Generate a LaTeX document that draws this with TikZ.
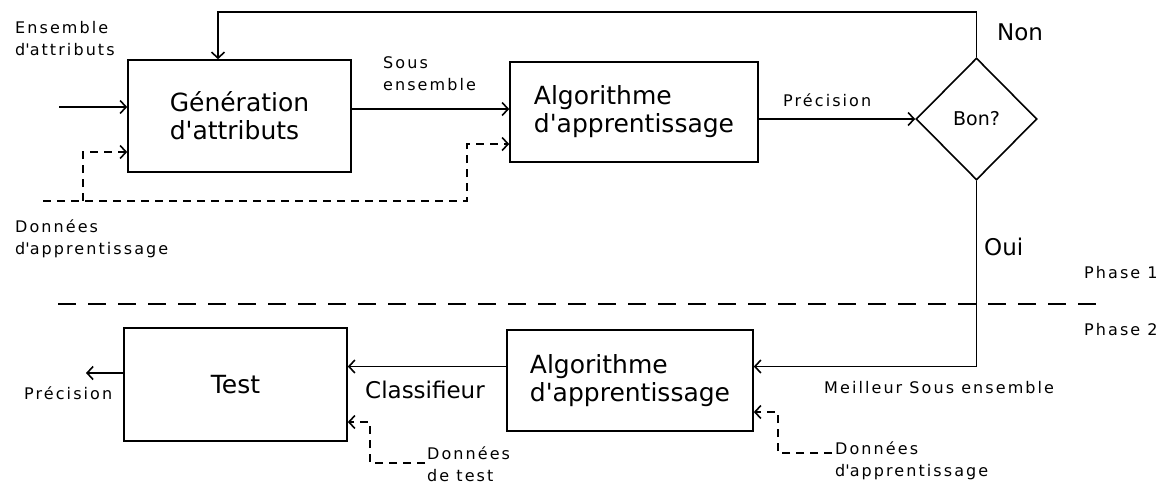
\documentclass[tikz,border=0pt]{standalone}
\usepackage{fontspec}
\setmainfont{DejaVu Sans}
\newfontfamily\smallfont{DejaVu Sans}[LetterSpace=13]
\usepackage{tikz}
\newcommand{\linew}{1.6pt}
\newcommand{\ap}{\textquotesingle}
\usetikzlibrary{arrows.meta,shapes.geometric,positioning}
\tikzset{
  >={Straight Barb[length=6pt,width=13pt]},
  box/.style={draw,shape=rectangle,line width=\linew,inner sep=0,align=left,font=\fontsize{25}{28}\selectfont},
  decision/.style={draw,shape=diamond,line width=\linew,inner sep=0,aspect=1,font=\fontsize{19}{22}\selectfont},
  lbl/.style={anchor=west,align=left,inner sep=0,font=\smallfont\fontsize{16}{22}\selectfont},
  big/.style={anchor=west,inner sep=0,font=\fontsize{23}{27}\selectfont},
  flow/.style={draw,->,line width=\linew},
  data/.style={draw,->,line width=\linew,dash pattern=on 8pt off 6pt},
  phase/.style={draw,line width=\linew,dash pattern=on 18pt off 12pt},
}

\begin{document}
\begin{tikzpicture}[x=1pt,y=-1pt]
  \useasboundingbox (0,0) rectangle (1172,483);
  % phase 1
  \node (gen) [box,minimum width=223pt,minimum height=112pt] at (239.5,116) {Génération\\d\ap attributs};
  \node (algo) [box,minimum width=248pt,minimum height=100pt] at (634,112) {Algorithme\\d\ap apprentissage};
  \node (bon) [decision,minimum width=121pt,minimum height=122pt] at (976.5,119) {Bon?};
  % phase 2
  \node (algob) [box,minimum width=246pt,minimum height=101pt] at (630,380.5) {Algorithme\\d\ap apprentissage};
  \node (test) [box,minimum width=223pt,minimum height=113pt] at (235.5,384.5) {Test};

  % labels
  \node (ens) [lbl] at (15,39) {Ensemble\\d\ap attributs};
  \node (sous) [lbl] at (383,74) {Sous\\ensemble};
  \node (donA) [lbl] at (15,239) {Données\\d\ap apprentissage};
  \node (precA) [lbl] at (783,100) {Précision};
  \node (non) [big] at (997,32) {Non};
  \node (oui) [big] at (984,247) {Oui};
  \node (ph1) [lbl] at (1084,273) {Phase 1};
  \node (ph2) [lbl] at (1084,330) {Phase 2};
  \node (best) [lbl] at (824,388) {Meilleur Sous ensemble};
  \node (donC) [lbl] at (835,461) {Données\\d\ap apprentissage};
  \node (donT) [lbl] at (427,464) {Données\\de test};
  \node (clf) [big] at (365,390) {Classifieur};
  \node (precB) [lbl] at (24,393) {Précision};

  % free ends
  \coordinate (in) at (59,107);
  \coordinate (top) at (218,12);
  \coordinate (out) at (86,373);
  \coordinate (dstart) at (43,201);
  \coordinate (dsplit) at (83,201);
  \coordinate (dturn) at (467,201);
  \coordinate (tdata) at (425,463);
  \coordinate (adata) at (832,453);
  \coordinate (pl) at (58,304);
  \coordinate (pr) at (1105,304);

  \path [flow] (in) -- (in -| gen.west);
  \path [flow] ([yshift=7pt]gen.east) -- ([yshift=7pt]gen.east -| algo.west);
  \path [flow] (algo.east |- bon.west) -- (bon.west);
  \path [flow] (bon.north) |- (top) -- (top |- gen.north);
  \path [flow] (bon.south) |- ([yshift=14pt]algob.east);
  \path [flow] ([yshift=14pt]algob.west) -- ([yshift=14pt]algob.west -| test.east);
  \path [flow] (out -| test.west) -- (out);

  \path [data] (dstart) -- (dturn) |- ([yshift=-32pt]algo.west);
  \path [data] (dsplit) |- ([yshift=-36pt]gen.west);
  \path [data] (tdata) -| ([xshift=22pt,yshift=-37.5pt]test.east) -- ([yshift=-37.5pt]test.east);
  \path [data] (adata) -| ([xshift=24pt,yshift=-31.5pt]algob.east) -- ([yshift=-31.5pt]algob.east);

  \path [phase] (pl) -- (pr);
\end{tikzpicture}
\end{document}
